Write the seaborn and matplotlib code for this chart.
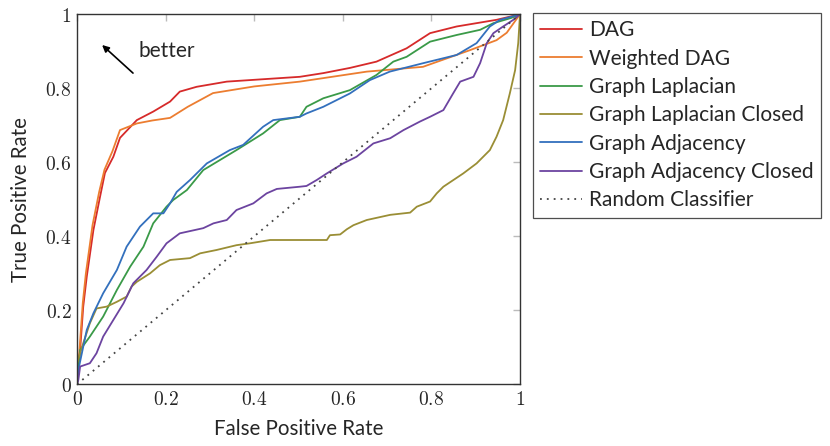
import matplotlib
matplotlib.use("Agg")
import matplotlib.pyplot as plt
from matplotlib.ticker import FuncFormatter, FixedLocator
import seaborn as sns
import pandas as pd

# ---- data ----
dag_x = [0, 0.007, 0.014, 0.022, 0.037, 0.052, 0.063, 0.082, 0.097, 0.135, 0.172, 0.21, 0.232, 0.27, 0.338, 0.503, 0.556, 0.616, 0.676, 0.744, 0.797, 0.857, 0.947, 1.0]
dag_y = [0, 0.093, 0.21, 0.291, 0.417, 0.507, 0.571, 0.615, 0.666, 0.714, 0.737, 0.764, 0.791, 0.804, 0.818, 0.831, 0.841, 0.855, 0.872, 0.908, 0.949, 0.967, 0.985, 1.0]

wdag_x = [0, 0.006, 0.013, 0.02, 0.035, 0.05, 0.062, 0.08, 0.097, 0.135, 0.17, 0.21, 0.25, 0.307, 0.4, 0.503, 0.654, 0.781, 0.887, 0.947, 0.97, 1.0]
wdag_y = [0, 0.1, 0.22, 0.3, 0.43, 0.52, 0.58, 0.63, 0.687, 0.705, 0.713, 0.72, 0.75, 0.787, 0.805, 0.818, 0.845, 0.858, 0.903, 0.93, 0.95, 1.0]

lap_x = [0, 0.007, 0.029, 0.059, 0.09, 0.12, 0.15, 0.172, 0.202, 0.217, 0.248, 0.285, 0.36, 0.42, 0.458, 0.503, 0.518, 0.556, 0.616, 0.676, 0.714, 0.744, 0.797, 0.857, 0.91, 0.94, 0.98, 1.0]
lap_y = [0, 0.093, 0.129, 0.183, 0.255, 0.318, 0.372, 0.435, 0.48, 0.498, 0.525, 0.579, 0.633, 0.678, 0.714, 0.723, 0.75, 0.773, 0.795, 0.836, 0.872, 0.885, 0.926, 0.944, 0.958, 0.976, 0.99, 1.0]

lapc_x = [0, 0.0, 0.014, 0.029, 0.044, 0.067, 0.09, 0.112, 0.123, 0.135, 0.165, 0.187, 0.21, 0.255, 0.278, 0.315, 0.36, 0.39, 0.436, 0.526, 0.564, 0.571, 0.594, 0.609, 0.624, 0.654, 0.707, 0.752, 0.767, 0.797, 0.812, 0.827, 0.872, 0.902, 0.932, 0.947, 0.962, 0.977, 0.989, 0.996, 1.0]
lapc_y = [0, 0.057, 0.111, 0.165, 0.205, 0.21, 0.223, 0.237, 0.264, 0.277, 0.3, 0.322, 0.336, 0.341, 0.354, 0.363, 0.376, 0.381, 0.39, 0.39, 0.39, 0.403, 0.405, 0.419, 0.43, 0.444, 0.458, 0.464, 0.48, 0.494, 0.516, 0.534, 0.57, 0.597, 0.633, 0.669, 0.714, 0.786, 0.849, 0.922, 1.0]

adj_x = [0, 0.003, 0.022, 0.037, 0.059, 0.09, 0.112, 0.142, 0.172, 0.195, 0.21, 0.225, 0.255, 0.293, 0.345, 0.375, 0.42, 0.443, 0.503, 0.518, 0.556, 0.616, 0.661, 0.706, 0.782, 0.857, 0.902, 0.932, 0.955, 1.0]
adj_y = [0, 0.039, 0.147, 0.192, 0.246, 0.309, 0.372, 0.426, 0.462, 0.462, 0.489, 0.52, 0.552, 0.597, 0.633, 0.647, 0.696, 0.714, 0.723, 0.732, 0.75, 0.786, 0.822, 0.845, 0.868, 0.89, 0.922, 0.967, 0.985, 1.0]

adjc_x = [0, 0.003, 0.007, 0.029, 0.044, 0.059, 0.082, 0.105, 0.127, 0.157, 0.18, 0.202, 0.232, 0.285, 0.308, 0.338, 0.36, 0.398, 0.428, 0.451, 0.503, 0.518, 0.541, 0.564, 0.601, 0.631, 0.669, 0.707, 0.737, 0.774, 0.797, 0.827, 0.849, 0.865, 0.895, 0.91, 0.925, 0.94, 0.962, 0.985, 1.0]
adjc_y = [0, 0.012, 0.048, 0.057, 0.084, 0.129, 0.174, 0.219, 0.273, 0.309, 0.345, 0.381, 0.408, 0.422, 0.435, 0.444, 0.471, 0.489, 0.516, 0.528, 0.534, 0.536, 0.552, 0.57, 0.597, 0.615, 0.651, 0.665, 0.687, 0.71, 0.723, 0.741, 0.786, 0.818, 0.831, 0.868, 0.922, 0.949, 0.967, 0.985, 1.0]

rand_x = [0, 1]
rand_y = [0, 1]

labels = ["DAG", "Weighted DAG", "Graph Laplacian", "Graph Laplacian Closed",
          "Graph Adjacency", "Graph Adjacency Closed", "Random Classifier"]
colors = ["#d62a2a", "#ec7d30", "#3a9a48", "#9a8e35", "#3370bd", "#6c44a0", "#444444"]
tick_vals = [0, 0.2, 0.4, 0.6, 0.8, 1]

series = [(dag_x, dag_y), (wdag_x, wdag_y), (lap_x, lap_y), (lapc_x, lapc_y),
          (adj_x, adj_y), (adjc_x, adjc_y), (rand_x, rand_y)]

rows = []
for lab, (xs, ys) in zip(labels, series):
    for xv, yv in zip(xs, ys):
        rows.append({"fpr": xv, "tpr": yv, "method": lab})
df = pd.DataFrame(rows)

sns.set_theme(style="white")
plt.rcParams["font.family"] = ["Lato", "DejaVu Sans"]
plt.rcParams["mathtext.fontset"] = "cm"

fig = plt.figure(figsize=(8.3, 4.46), dpi=100)
ax = fig.add_axes([0.0928, 0.1383, 0.6265 - 0.0928, 0.968 - 0.1383])

palette = dict(zip(labels, colors))
dashes = {lab: "" for lab in labels}
dashes["Random Classifier"] = (1, 2.8)
sns.lineplot(data=df, x="fpr", y="tpr", hue="method", style="method",
             hue_order=labels, style_order=labels, palette=palette, dashes=dashes,
             sort=False, estimator=None, units="method", linewidth=1.3, ax=ax,
             legend=True)

ax.set_xlim(0, 1)
ax.set_ylim(0, 1)
ax.xaxis.set_major_locator(FixedLocator(tick_vals))
ax.yaxis.set_major_locator(FixedLocator(tick_vals))
fmt = FuncFormatter(lambda v, p: r"$%g$" % v)
ax.xaxis.set_major_formatter(fmt)
ax.yaxis.set_major_formatter(fmt)
ax.tick_params(direction="in", length=5, width=1, color="#bbbbbb",
               top=True, right=True, labelsize=14, pad=4)
for sp in ax.spines.values():
    sp.set_color("#333333")
    sp.set_linewidth(1.0)

ax.set_xlabel("False Positive Rate", fontsize=14.8, labelpad=8)
ax.set_ylabel("True Positive Rate", fontsize=14.8, labelpad=10)

ax.annotate("", xy=(0.052, 0.922), xytext=(0.131, 0.836),
            arrowprops=dict(arrowstyle="-|>", color="black", lw=1.2,
                            mutation_scale=10))
ax.text(0.138, 0.900, "better", fontsize=15, va="center", ha="left")

leg = ax.legend(loc="upper left", bbox_to_anchor=(1.029, 1.003), borderaxespad=0,
                fontsize=15, frameon=True, fancybox=False, edgecolor="#222222",
                handlelength=2.0, handletextpad=0.35, labelspacing=0.4,
                borderpad=0.35, title=None)
leg.get_frame().set_linewidth(0.9)
for h in leg.get_lines():
    h.set_linewidth(1.3)

fig.savefig("out.png", dpi=100)
